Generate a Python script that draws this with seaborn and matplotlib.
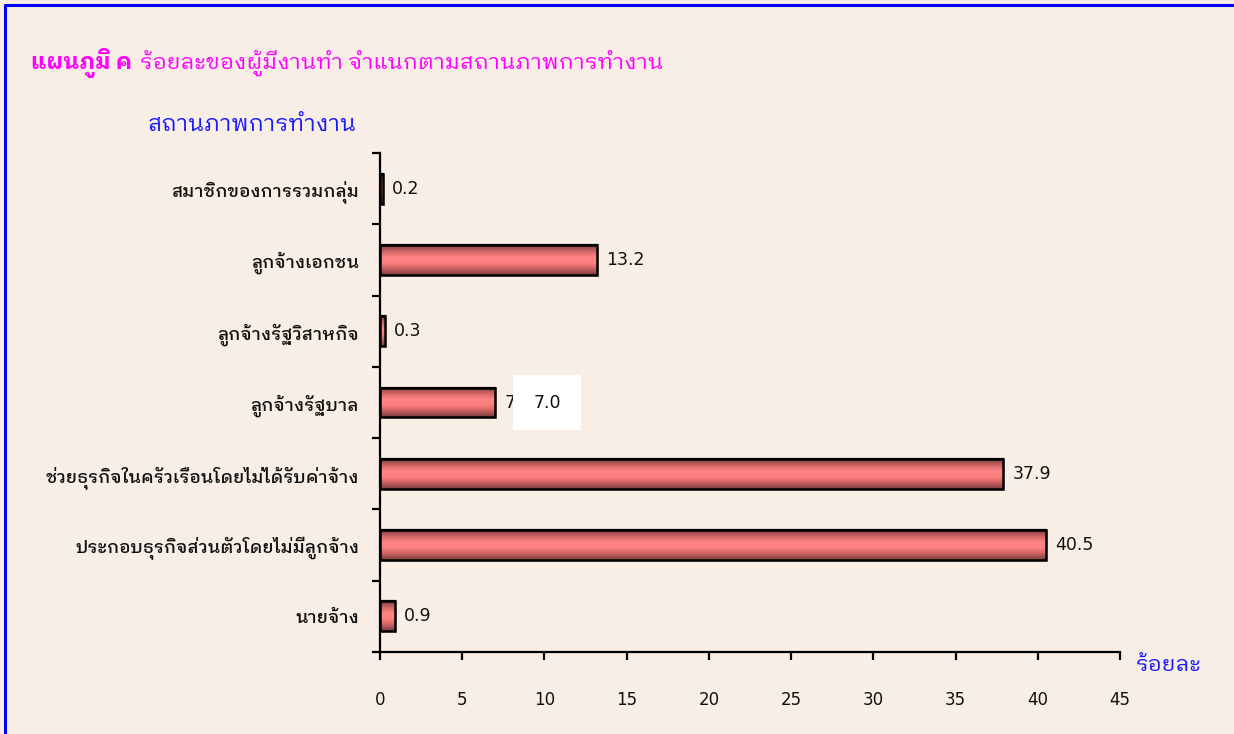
import numpy as np
import pandas as pd
import seaborn as sns
import matplotlib
matplotlib.use('Agg')
import matplotlib.pyplot as plt
from matplotlib import font_manager
from matplotlib.colors import LinearSegmentedColormap
from matplotlib.patches import Rectangle
from matplotlib.lines import Line2D

# data
categories = ['สมาชิกของการรวมกลุ่ม', 'ลูกจ้างเอกชน', 'ลูกจ้างรัฐวิสาหกิจ', 'ลูกจ้างรัฐบาล',
              'ช่วยธุรกิจในครัวเรือนโดยไม่ได้รับค่าจ้าง', 'ประกอบธุรกิจส่วนตัวโดยไม่มีลูกจ้าง', 'นายจ้าง']
values = [0.2, 13.2, 0.3, 7.0, 37.9, 40.5, 0.9]
x_ticks = [0, 5, 10, 15, 20, 25, 30, 35, 40, 45]
title_bold = 'แผนภูมิ ค'
title_rest = 'ร้อยละของผู้มีงานทำ จำแนกตามสถานภาพการทำงาน'
y_title = 'สถานภาพการทำงาน'
x_title = 'ร้อยละ'

def pick_font(cands):
    names = {f.name for f in font_manager.fontManager.ttflist}
    for c in cands:
        if c in names:
            return c
    return 'DejaVu Sans'

thai = pick_font(['IBM Plex Sans Thai Looped', 'Noto Sans Thai Looped', 'Noto Sans Thai', 'Sarabun'])

bg = '#f8eee6'
sns.set_theme(style='white')
plt.rcParams['font.family'] = [thai, 'DejaVu Sans']

df = pd.DataFrame({'cat': categories, 'val': values})

fig = plt.figure(figsize=(12.34, 7.34), dpi=100, facecolor=bg)
ax = fig.add_axes([380 / 1234, 1 - 652 / 734, 740 / 1234, 499 / 734])
ax.set_facecolor(bg)

sns.barplot(data=df, x='val', y='cat', order=categories, orient='h', width=0.42,
            color='#ff8080', edgecolor='black', linewidth=1.6, ax=ax)

# cylinder-like shading inside each bar
shade = LinearSegmentedColormap.from_list('shade', ['#7a3e3e', '#d06464', '#ff8585', '#ff8080', '#c86060', '#7a3e3e'])
grad = np.linspace(0, 1, 64).reshape(-1, 1)
for p in ax.patches:
    x0, y0 = p.get_x(), p.get_y()
    w, h = p.get_width(), p.get_height()
    im = ax.imshow(grad, cmap=shade, aspect='auto', extent=[x0, x0 + w, y0 + h, y0],
                   zorder=p.get_zorder() + 0.1, interpolation='bicubic')
    im.set_clip_path(p)
    edge = Rectangle((x0, y0), w, h, fill=False, edgecolor='black', linewidth=1.8,
                     zorder=p.get_zorder() + 0.2)
    ax.add_patch(edge)

ax.set_xlim(0, 45)
ax.set_ylim(len(categories) - 0.5, -0.5)
ax.set_xticks(x_ticks)
ax.set_xticklabels([str(t) for t in x_ticks], fontsize=12, family='DejaVu Sans')
ax.set_yticks(range(len(categories)))
ax.set_yticklabels(categories, fontsize=12.9, fontweight='medium', color='#111111')
ax.set_yticks(np.arange(-0.5, len(categories), 1), minor=True)
ax.tick_params(axis='y', which='major', length=0, pad=15)
ax.tick_params(axis='y', which='minor', length=6, width=1.6, color='black', direction='out', left=True)
ax.tick_params(axis='x', which='major', length=6, width=1.6, color='black', direction='out', pad=22,
               bottom=True, labelcolor='#111111')
ax.set_xlabel('')
ax.set_ylabel('')
for s in ['top', 'right']:
    ax.spines[s].set_visible(False)
for s in ['left', 'bottom']:
    ax.spines[s].set_color('black')
    ax.spines[s].set_linewidth(1.6)

# value labels
for p, v in zip(ax.patches[:len(values)], values):
    ax.text(p.get_x() + p.get_width() + 0.55, p.get_y() + p.get_height() / 2, f'{v:.1f}',
            ha='left', va='center', fontsize=12.5, family='DejaVu Sans', color='#111111')

# white box with a copy of the 7.0 label
i7 = categories.index('ลูกจ้างรัฐบาล')
ax.add_patch(Rectangle((values[i7] + 1.1, i7 - 0.39), 4.1, 0.78, facecolor='white',
                       edgecolor='none', zorder=5, clip_on=False))
ax.text(values[i7] + 3.15, i7, f'{values[i7]:.1f}', ha='center', va='center', fontsize=12.5,
        family='DejaVu Sans', color='#111111', zorder=6)

# titles
t1 = fig.text(31 / 1234, 1 - 63 / 734, title_bold, color='#ff00ff', fontsize=16,
              fontweight='bold', va='center', ha='left')
fig.canvas.draw()
bb = t1.get_window_extent()
fig.text((bb.x1 + 8) / 1234, 1 - 63 / 734, title_rest, color='#ff00ff', fontsize=16,
         va='center', ha='left')
fig.text(148 / 1234, 1 - 125 / 734, y_title, color='#1a1aff', fontsize=16.5, va='center', ha='left')
fig.text(1136 / 1234, 1 - 665 / 734, x_title, color='#1a1aff', fontsize=16, va='center', ha='left')

# blue frame (left and top edges)
fig.add_artist(Line2D([5 / 1234, 5 / 1234], [0, 1 - 5 / 734], transform=fig.transFigure,
                      color='#0000ff', linewidth=2.2))
fig.add_artist(Line2D([5 / 1234, 1], [1 - 5 / 734, 1 - 5 / 734], transform=fig.transFigure,
                      color='#0000ff', linewidth=2.2))

fig.savefig('out.png', dpi=100, facecolor=bg)
